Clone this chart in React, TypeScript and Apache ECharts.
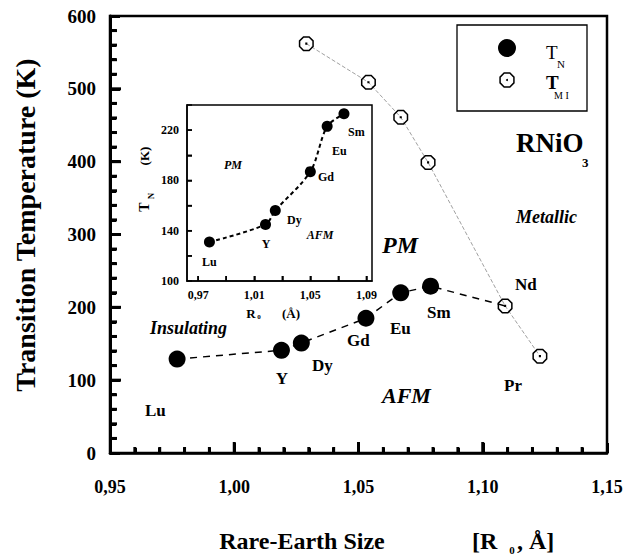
import React, { useEffect, useRef } from "react";
import * as echarts from "echarts";

// ---- Data ----
const tnElements = ["Lu", "Y", "Dy", "Gd", "Eu", "Sm"];
const tnRadius = [0.977, 1.019, 1.027, 1.053, 1.067, 1.079];
const tnTemp = [129, 141, 151, 185, 220, 229];

const tmiElements = ["Dy", "Gd", "Eu", "Sm", "Nd", "Pr"];
const tmiRadius = [1.029, 1.054, 1.067, 1.078, 1.109, 1.123];
const tmiTemp = [562, 509, 461, 399, 202, 133];

const insetElements = ["Lu", "Y", "Dy", "Gd", "Eu", "Sm"];
const insetRadius = [0.978, 1.018, 1.025, 1.05, 1.062, 1.074];
const insetTN = [131, 145, 156, 187, 223, 233];

// ---- Axis ticks ----
const mainXTicks = [0.95, 1.0, 1.05, 1.1, 1.15];
const mainYTicks = [0, 100, 200, 300, 400, 500, 600];
const insetXRange = [0.962, 1.094];
const insetXTicks = [0.97, 0.99, 1.01, 1.03, 1.05, 1.07, 1.09];
const insetXLabels = [0.97, 1.01, 1.05, 1.09];
const insetYTicks = [100, 120, 140, 160, 180, 200, 220, 240];
const insetYLabels = [100, 140, 180, 220];

const FONT = '"Liberation Serif", "Times New Roman", "DejaVu Serif", serif';

function minorsOf(majors: number[], split: number): number[] {
  const out: number[] = [];
  for (let i = 0; i < majors.length - 1; i++) {
    const a = majors[i];
    const b = majors[i + 1];
    for (let k = 1; k < split; k++) out.push(+(a + ((b - a) * k) / split).toFixed(6));
  }
  return out;
}

function octPoints(cx: number, cy: number, r: number): number[][] {
  const pts: number[][] = [];
  for (let k = 0; k < 8; k++) {
    const a = ((22.5 + 45 * k) * Math.PI) / 180;
    pts.push([cx + r * Math.cos(a), cy + r * Math.sin(a)]);
  }
  return pts;
}

function octRingPath(R: number, r: number, d: number): string {
  const seg = (p: number[][]) =>
    "M" + p.map((q) => q[0].toFixed(2) + "," + q[1].toFixed(2)).join("L") + "Z";
  return (
    "path://" +
    seg(octPoints(0, 0, R)) +
    seg(octPoints(0, 0, r).reverse()) +
    `M${-d},${-d}L${d},${-d}L${d},${d}L${-d},${d}Z`
  );
}

const fmtComma = (v: number) => v.toFixed(2).replace(".", ",");

function txt(
  text: string,
  x: number,
  y: number,
  size: number,
  opts: { italic?: boolean; bold?: boolean; align?: string; rotation?: number } = {}
) {
  const { italic = false, bold = true, align = "left", rotation = 0 } = opts;
  return {
    type: "text",
    x,
    y,
    rotation,
    z: 10,
    style: {
      text,
      fill: "#000",
      font: `${italic ? "italic " : ""}${bold ? "bold " : ""}${size}px ${FONT}`,
      textAlign: align,
      textVerticalAlign: "middle",
    },
  };
}

// tick kinds: [direction, length, thickness]
const TICK_SPECS: Record<number, [string, number, number]> = {
  0: ["x", 11, 3],
  1: ["x", 6, 3],
  2: ["y", 11, 3],
  3: ["y", 7, 3],
  4: ["x", 5, 1.5],
  5: ["y", 5, 1.5],
};

// ticks drawn as filled thin rectangles, placed through the axes' scales
function tickRenderer(params: any, api: any) {
  const kind = api.value(2);
  const p = api.coord([api.value(0), api.value(1)]);
  const spec = TICK_SPECS[kind];
  const len = spec[1];
  const w = spec[2];
  const shape =
    spec[0] === "x"
      ? { x: p[0] - w / 2, y: p[1] - len, width: w, height: len }
      : { x: p[0], y: p[1] - w / 2, width: len, height: w };
  return { type: "rect", shape, style: { fill: "#000" } };
}

export default function App() {
  const ref = useRef<HTMLDivElement>(null);

  useEffect(() => {
    if (!ref.current) return;
    const chart = echarts.init(ref.current, undefined, { renderer: "svg" });

    const tnPts = tnRadius.map((x, i) => [x, tnTemp[i]]);
    const tmiPts = tmiRadius.map((x, i) => [x, tmiTemp[i]]);
    const ndIdx = tmiElements.indexOf("Nd");
    const tnLinePts = [...tnPts, [tmiRadius[ndIdx], tmiTemp[ndIdx]]];
    const insetPts = insetRadius.map((x, i) => [x, insetTN[i]]);

    const xMin = mainXTicks[0];
    const yMin = mainYTicks[0];
    const mainTickData = [
      ...mainXTicks.slice(1, -1).map((v) => [v, yMin, 0]),
      ...minorsOf(mainXTicks, 5).map((v) => [v, yMin, 1]),
      ...mainYTicks.slice(1, -1).map((v) => [xMin, v, 2]),
      ...minorsOf(mainYTicks, 5).map((v) => [xMin, v, 3]),
    ];
    const insetTickData = [
      ...insetXTicks.map((v) => [v, insetYTicks[0], 4]),
      ...insetYTicks.slice(1, -1).map((v) => [insetXRange[0], v, 5]),
    ];

    const labelStyle = { fontFamily: FONT, fontWeight: "bold" as const, color: "#000" };

    const option: any = {
      animation: false,
      backgroundColor: "#fff",
      grid: [
        { left: 110, top: 16, width: 497, height: 437, show: false },
        { left: 187, top: 105, width: 185, height: 176, show: false },
      ],
      xAxis: [
        {
          type: "value",
          gridIndex: 0,
          min: mainXTicks[0],
          max: mainXTicks[mainXTicks.length - 1],
          interval: 0.05,
          axisLine: { show: true, onZero: false, lineStyle: { color: "#000", width: 2.5 } },
          axisTick: { show: true, inside: true, length: 10, lineStyle: { color: "#000", width: 3 } },
          minorTick: { show: true, splitNumber: 5, length: 5, lineStyle: { color: "#000", width: 3 } },
          splitLine: { show: false },
          axisLabel: { ...labelStyle, fontSize: 18, margin: 25, formatter: (v: number) => fmtComma(v) },
        },
        {
          type: "value",
          gridIndex: 1,
          min: insetXRange[0],
          max: insetXRange[1],
          axisLine: { show: true, onZero: false, lineStyle: { color: "#000", width: 1.5 } },
          axisTick: {
            show: true,
            inside: true,
            length: 5,
            customValues: insetXTicks,
            lineStyle: { color: "#000", width: 1.5 },
          },
          splitLine: { show: false },
          axisLabel: {
            ...labelStyle,
            fontSize: 12,
            margin: 8,
            customValues: insetXLabels,
            formatter: (v: number) => fmtComma(v),
          },
        },
      ],
      yAxis: [
        {
          type: "value",
          gridIndex: 0,
          min: mainYTicks[0],
          max: mainYTicks[mainYTicks.length - 1],
          interval: 100,
          axisLine: { show: true, onZero: false, lineStyle: { color: "#000", width: 3 } },
          axisTick: { show: true, inside: true, length: 10, lineStyle: { color: "#000", width: 3 } },
          minorTick: { show: true, splitNumber: 5, length: 6, lineStyle: { color: "#000", width: 3 } },
          splitLine: { show: false },
          axisLabel: { ...labelStyle, fontSize: 19, margin: 14 },
        },
        {
          type: "value",
          gridIndex: 1,
          min: insetYTicks[0],
          max: insetYTicks[insetYTicks.length - 1],
          interval: 20,
          axisLine: { show: true, onZero: false, lineStyle: { color: "#000", width: 1.5 } },
          axisTick: { show: true, inside: true, length: 5, lineStyle: { color: "#000", width: 1.5 } },
          splitLine: { show: false },
          axisLabel: {
            ...labelStyle,
            fontSize: 12,
            margin: 8,
            customValues: insetYLabels,
          },
        },
      ],
      series: [
        {
          name: "TN line",
          type: "line",
          xAxisIndex: 0,
          yAxisIndex: 0,
          data: tnLinePts,
          symbol: "none",
          lineStyle: { color: "#000", width: 1.5, type: [7, 6] },
          z: 2,
        },
        {
          name: "TMI line",
          type: "line",
          xAxisIndex: 0,
          yAxisIndex: 0,
          data: tmiPts,
          symbol: "none",
          lineStyle: { color: "#a0a0a0", width: 1, type: [4, 2] },
          z: 2,
        },
        {
          name: "T_N",
          type: "scatter",
          xAxisIndex: 0,
          yAxisIndex: 0,
          data: tnPts,
          symbol: "circle",
          symbolSize: 17,
          itemStyle: { color: "#000", opacity: 1 },
          z: 4,
        },
        {
          name: "T_MI",
          type: "scatter",
          xAxisIndex: 0,
          yAxisIndex: 0,
          data: tmiPts,
          symbol: octRingPath(10, 8, 1.3),
          symbolSize: 15,
          itemStyle: { color: "#000", opacity: 1 },
          z: 4,
        },
        {
          name: "Inset T_N",
          type: "line",
          xAxisIndex: 1,
          yAxisIndex: 1,
          data: insetPts,
          smooth: 0.3,
          symbol: "circle",
          symbolSize: 11,
          itemStyle: { color: "#000", opacity: 1 },
          lineStyle: { color: "#000", width: 2, type: [4, 3] },
          z: 4,
        },
        {
          name: "main ticks",
          type: "custom",
          xAxisIndex: 0,
          yAxisIndex: 0,
          silent: true,
          clip: false,
          data: mainTickData,
          renderItem: tickRenderer,
          z: 6,
        },
        {
          name: "inset ticks",
          type: "custom",
          xAxisIndex: 1,
          yAxisIndex: 1,
          silent: true,
          clip: false,
          data: insetTickData,
          renderItem: tickRenderer,
          z: 6,
        },
      ],
      graphic: [
        // main frame
        {
          type: "rect",
          shape: { x: 110, y: 16, width: 497, height: 437 },
          style: { fill: "none", stroke: "#000", lineWidth: 2.5 },
          z: 5,
        },
        // inset frame
        {
          type: "rect",
          shape: { x: 187, y: 105, width: 185, height: 176 },
          style: { fill: "none", stroke: "#000", lineWidth: 1.5 },
          z: 5,
        },
        // legend box
        {
          type: "rect",
          shape: { x: 457, y: 25, width: 130, height: 86 },
          style: { fill: "#fff", stroke: "#000", lineWidth: 1.3 },
          z: 5,
        },
        { type: "circle", shape: { cx: 507, cy: 48, r: 9 }, style: { fill: "#000" }, z: 6 },
        {
          type: "polygon",
          shape: { points: octPoints(507, 80, 7.5) },
          style: { fill: "#fff", stroke: "#000", lineWidth: 1.5 },
          z: 6,
        },
        { type: "circle", shape: { cx: 507, cy: 80, r: 1 }, style: { fill: "#000" }, z: 7 },
        txt("T", 546, 52, 19, { bold: false }),
        txt("N", 557, 64, 11, { bold: false }),
        txt("T", 546, 82, 19, { bold: true }),
        txt("M I", 554, 95, 10, { bold: false }),

        // main annotations
        txt("RNiO", 516, 143, 27),
        txt("3", 582, 162, 13),
        txt("Metallic", 516, 217, 18, { italic: true }),
        txt("PM", 382, 245, 24, { italic: true }),
        txt("Insulating", 150, 328, 18, { italic: true }),
        txt("AFM", 382, 395, 22, { italic: true }),

        txt("Lu", 145, 410, 17),
        txt("Y", 282, 378, 17, { align: "center" }),
        txt("Dy", 312, 365, 17),
        txt("Gd", 347, 340, 17),
        txt("Eu", 390, 328, 17),
        txt("Sm", 427, 312, 17),
        txt("Nd", 515, 284, 17),
        txt("Pr", 504, 385, 17),

        // inset annotations
        txt("PM", 233, 165, 12, { italic: true, align: "center" }),
        txt("AFM", 320, 235, 12, { italic: true, align: "center" }),
        txt("Lu", 202, 262, 12),
        txt("Y", 266, 244, 12, { align: "center" }),
        txt("Dy", 287, 220, 12),
        txt("Gd", 318, 177, 12),
        txt("Eu", 332, 151, 12),
        txt("Sm", 348, 132, 12),

        // inset axis titles
        txt("T", 144, 207, 14, { align: "center", rotation: Math.PI / 2 }),
        txt("N", 151, 196, 9, { align: "center", rotation: Math.PI / 2 }),
        txt("(K)", 144, 156, 13, { align: "center", rotation: Math.PI / 2 }),
        txt("R", 251, 313, 13, { align: "center" }),
        txt("0", 259, 317, 7, { align: "center" }),
        txt("(Å)", 291, 313, 13, { align: "center" }),

        // main axis titles
        txt("Transition Temperature (K)", 25, 225, 28, { align: "center", rotation: Math.PI / 2 }),
        txt("Rare-Earth Size", 302, 541, 24, { align: "center" }),
        txt("[R", 472, 541, 24),
        txt("0", 512, 550, 11, { align: "center" }),
        txt(", Å]", 517, 541, 24),
      ],
    };

    chart.setOption(option);
    return () => chart.dispose();
  }, []);

  return (
    <div
      ref={ref}
      style={{ position: "fixed", left: 0, top: 0, width: 626, height: 557, background: "#fff" }}
    />
  );
}
